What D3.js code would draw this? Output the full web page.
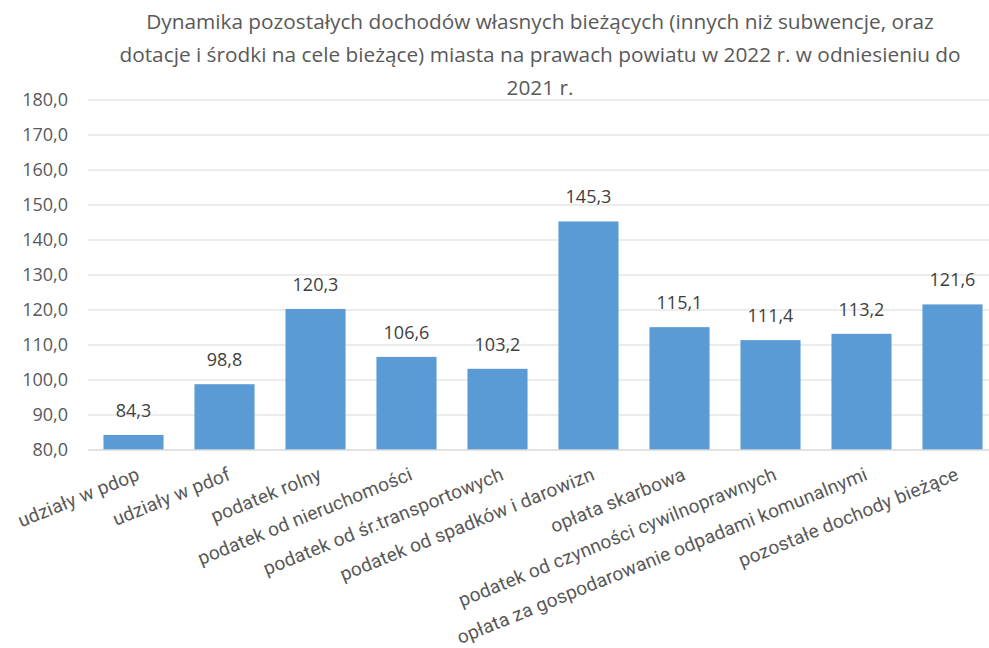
<!DOCTYPE html>
<html><head><meta charset="utf-8">
<script src="https://cdn.jsdelivr.net/npm/d3@7"></script>
<style>body{margin:0;background:#fff;} text{font-family:"Open Sans",sans-serif;}</style>
</head><body><svg id="c" width="989" height="648"></svg>
<script>
const categories = ["udziały w pdop","udziały w pdof","podatek rolny","podatek od nieruchomości","podatek od śr.transportowych","podatek od spadków i darowizn","opłata skarbowa","podatek od czynności cywilnoprawnych","opłata za gospodarowanie odpadami komunalnymi","pozostałe dochody bieżące"];
const values = [84.3,98.8,120.3,106.6,103.2,145.3,115.1,111.4,113.2,121.6];
const yTicks = [80,90,100,110,120,130,140,150,160,170,180];
const titleLines = ["Dynamika pozostałych dochodów własnych bieżących (innych niż subwencje, oraz","dotacje i środki na cele bieżące) miasta na prawach powiatu w 2022 r. w odniesieniu do","2021 r."];

const svg = d3.select("#c");
const fmt = v => v.toFixed(1).replace(".", ",");
const x = d3.scaleBand().domain(categories).range([88, 998]).paddingInner(0.34).paddingOuter(0.17);
const y = d3.scaleLinear().domain([80,180]).range([450,100]);

svg.append("g").selectAll("text").data(titleLines).join("text")
  .attr("x", 540).attr("y", (d,i)=>29+i*33).attr("text-anchor","middle")
  .attr("font-size", 20.8).attr("fill","#595959").text(d=>d);

const yAxis = d3.axisLeft(y).tickValues(yTicks).tickSize(0).tickPadding(20).tickFormat(fmt);
const gy = svg.append("g").attr("transform","translate(88,0)").call(yAxis);
gy.select(".domain").remove();
gy.selectAll("text").attr("font-size",18).attr("fill","#595959").attr("font-family","Open Sans");

svg.append("g").selectAll("line").data(yTicks.slice(1)).join("line")
  .attr("x1",88).attr("x2",998).attr("y1",d=>y(d)).attr("y2",d=>y(d))
  .attr("stroke","#d9d9d9").attr("stroke-width",1.2);

svg.append("g").selectAll("rect").data(values).join("rect")
  .attr("x",(d,i)=>x(categories[i])).attr("width",x.bandwidth())
  .attr("y",d=>y(d)).attr("height",d=>y(80)-y(d)).attr("fill","#5B9BD5");

svg.append("line").attr("x1",88).attr("x2",998).attr("y1",y(80)).attr("y2",y(80))
  .attr("stroke","#d9d9d9").attr("stroke-width",1.5);

svg.append("g").selectAll("text").data(values).join("text")
  .attr("x",(d,i)=>x(categories[i])+x.bandwidth()/2).attr("y",d=>y(d)-18)
  .attr("text-anchor","middle").attr("font-size",18).attr("fill","#404040").text(fmt);

svg.append("g").selectAll("text").data(categories).join("text")
  .attr("transform",d=>`translate(${x(d)+x.bandwidth()/2+2},${y(80)+16}) rotate(-22)`)
  .attr("text-anchor","end").attr("dy","0.75em")
  .style("font-family","Roboto, sans-serif").attr("letter-spacing",0.2)
  .attr("font-size",19).attr("fill","#595959").text(d=>d);
</script></body></html>
